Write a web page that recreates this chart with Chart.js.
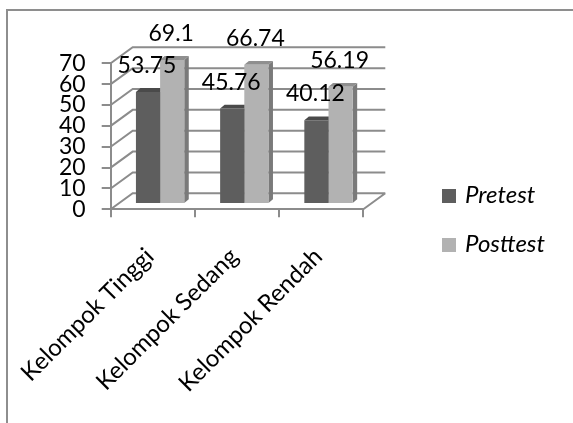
<!DOCTYPE html>
<html>
<head>
<meta charset="utf-8">
<script src="https://cdn.jsdelivr.net/npm/chart.js@4.4.1/dist/chart.umd.min.js"></script>
<style>
  html, body { margin: 0; padding: 0; background: #fff; }
  #wrap { position: relative; width: 573px; height: 423px; overflow: hidden; }
  #frame { position: absolute; left: 6px; top: 9px; width: 640px; height: 480px;
           border-left: 2px solid #8e8e8e; border-top: 2px solid #8e8e8e; }
  #chart { position: absolute; left: 0; top: 0; }
  .lg-sw { position: absolute; width: 14px; height: 14px; }
  .lg-tx { position: absolute; font-family: Lato, "Noto Sans", sans-serif; font-style: italic;
           font-size: 24px; line-height: 24px; color: #000; white-space: nowrap; }
</style>
</head>
<body>
<div id="wrap">
  <div id="frame"></div>
  <canvas id="chart" width="573" height="423"></canvas>
  <div id="legend"></div>
</div>
<script>
// Mean scores per group
const categories = ['Kelompok Tinggi', 'Kelompok Sedang', 'Kelompok Rendah'];
const seriesNames = ['Pretest', 'Posttest'];
const pretest = [53.75, 45.76, 40.12];
const posttest = [69.1, 66.74, 56.19];
const yTicks = [0, 10, 20, 30, 40, 50, 60, 70];

// Face colours of the 3-D columns: front, top, side
const frontColors = ['#5e5e5e', '#b2b2b2'];
const topColors = ['#4a4a4a', '#8f8f8f'];
const sideColors = ['#3e3e3e', '#7a7a7a'];

const GRID = '#8c8c8c';
const FONT = 'Lato, "Noto Sans", sans-serif';

// 3-D geometry: depth of the floor, where the columns stand, column depth
const DEPTH = { x: 22, y: -16 };
const BAR_SHIFT = { x: 7.3, y: -5.3 };
const BAR_DEPTH = { x: 4.5, y: -3.8 };

const walls3d = {
  id: 'walls3d',
  beforeDatasetsDraw(chart) {
    const { ctx, chartArea: a, scales: { y } } = chart;
    ctx.save();
    ctx.strokeStyle = GRID;
    ctx.lineWidth = 2;
    ctx.beginPath();
    yTicks.forEach(v => {
      const py = y.getPixelForValue(v);
      ctx.moveTo(a.left, py);                           // side wall
      ctx.lineTo(a.left + DEPTH.x, py + DEPTH.y);
      ctx.lineTo(a.right + DEPTH.x, py + DEPTH.y);      // back wall
    });
    const p0 = y.getPixelForValue(0);
    ctx.moveTo(a.right, p0);                            // floor edge
    ctx.lineTo(a.right + DEPTH.x, p0 + DEPTH.y);
    ctx.stroke();
    ctx.restore();

    // Column tops and sides go underneath the fronts drawn by Chart.js
    ctx.save();
    ctx.translate(BAR_SHIFT.x, BAR_SHIFT.y);
    chart.data.datasets.forEach((ds, i) => {
      chart.getDatasetMeta(i).data.forEach(bar => {
        const { x, y: top, base, width } = bar.getProps(['x', 'y', 'base', 'width'], true);
        const l = x - width / 2, r = x + width / 2;
        ctx.fillStyle = sideColors[i];
        ctx.beginPath();
        ctx.moveTo(r, top);
        ctx.lineTo(r + BAR_DEPTH.x, top + BAR_DEPTH.y);
        ctx.lineTo(r + BAR_DEPTH.x, base + BAR_DEPTH.y);
        ctx.lineTo(r, base);
        ctx.closePath();
        ctx.fill();
        ctx.fillStyle = topColors[i];
        ctx.beginPath();
        ctx.moveTo(l, top);
        ctx.lineTo(l + BAR_DEPTH.x, top + BAR_DEPTH.y);
        ctx.lineTo(r + BAR_DEPTH.x, top + BAR_DEPTH.y);
        ctx.lineTo(r, top);
        ctx.closePath();
        ctx.fill();
      });
    });
    // the shift stays on while the column fronts are drawn
  },
  afterDatasetsDraw(chart) {
    const { ctx } = chart;
    ctx.restore();
    ctx.save();
    ctx.fillStyle = '#000';
    ctx.font = '23px ' + FONT;
    ctx.textAlign = 'center';
    ctx.textBaseline = 'alphabetic';
    chart.data.datasets.forEach((ds, i) => {
      chart.getDatasetMeta(i).data.forEach((bar, j) => {
        const { x, y } = bar.getProps(['x', 'y'], true);
        ctx.fillText(String(ds.data[j]), x + BAR_SHIFT.x - 1, y + BAR_SHIFT.y - 19);
      });
    });
    ctx.restore();
  }
};

const values = [pretest, posttest];

const chart = new Chart(document.getElementById('chart'), {
  type: 'bar',
  data: {
    labels: categories,
    datasets: seriesNames.map((name, i) => ({
      label: name,
      data: values[i],
      backgroundColor: frontColors[i],
      borderWidth: 0,
      categoryPercentage: 0.574,
      barPercentage: 1.0,
      clip: false
    }))
  },
  options: {
    responsive: false,
    animation: false,
    devicePixelRatio: 1,
    layout: { padding: { left: 0, top: 63.3, right: 209.7, bottom: 0 } },
    plugins: { legend: { display: false }, tooltip: { enabled: false } },
    scales: {
      x: {
        grid: { drawOnChartArea: false, drawTicks: true, tickLength: 8, color: GRID, lineWidth: 2, offset: true },
        border: { display: true, color: GRID, width: 2 },
        ticks: { minRotation: 45, maxRotation: 45, autoSkip: false, padding: 25, labelOffset: -3,
                 color: '#000', font: { family: FONT, size: 24 } },
        afterFit(s) { s.height = 423 - 209.3; s.paddingLeft = 0; s.paddingRight = 0; }
      },
      y: {
        min: 0, max: 70,
        ticks: { stepSize: 10, autoSkip: false, padding: 16, color: '#000', font: { family: FONT, size: 23 } },
        grid: { drawOnChartArea: false, drawTicks: true, tickLength: 9, color: GRID, lineWidth: 2 },
        border: { display: true, color: GRID, width: 2 },
        afterFit(s) { s.width = 110.7; s.paddingTop = 0; s.paddingBottom = 0; }
      }
    }
  },
  plugins: [walls3d]
});

// Legend built from the chart's own datasets
const legend = document.getElementById('legend');
chart.data.datasets.forEach((ds, i) => {
  const top = 189 + i * 48.7;
  const sw = document.createElement('div');
  sw.className = 'lg-sw';
  sw.style.left = '442px';
  sw.style.top = top + 'px';
  sw.style.background = ds.backgroundColor;
  const tx = document.createElement('div');
  tx.className = 'lg-tx';
  tx.style.left = '465px';
  tx.style.top = (top - 7) + 'px';
  tx.textContent = ds.label;
  legend.appendChild(sw);
  legend.appendChild(tx);
});
</script>
</body>
</html>
